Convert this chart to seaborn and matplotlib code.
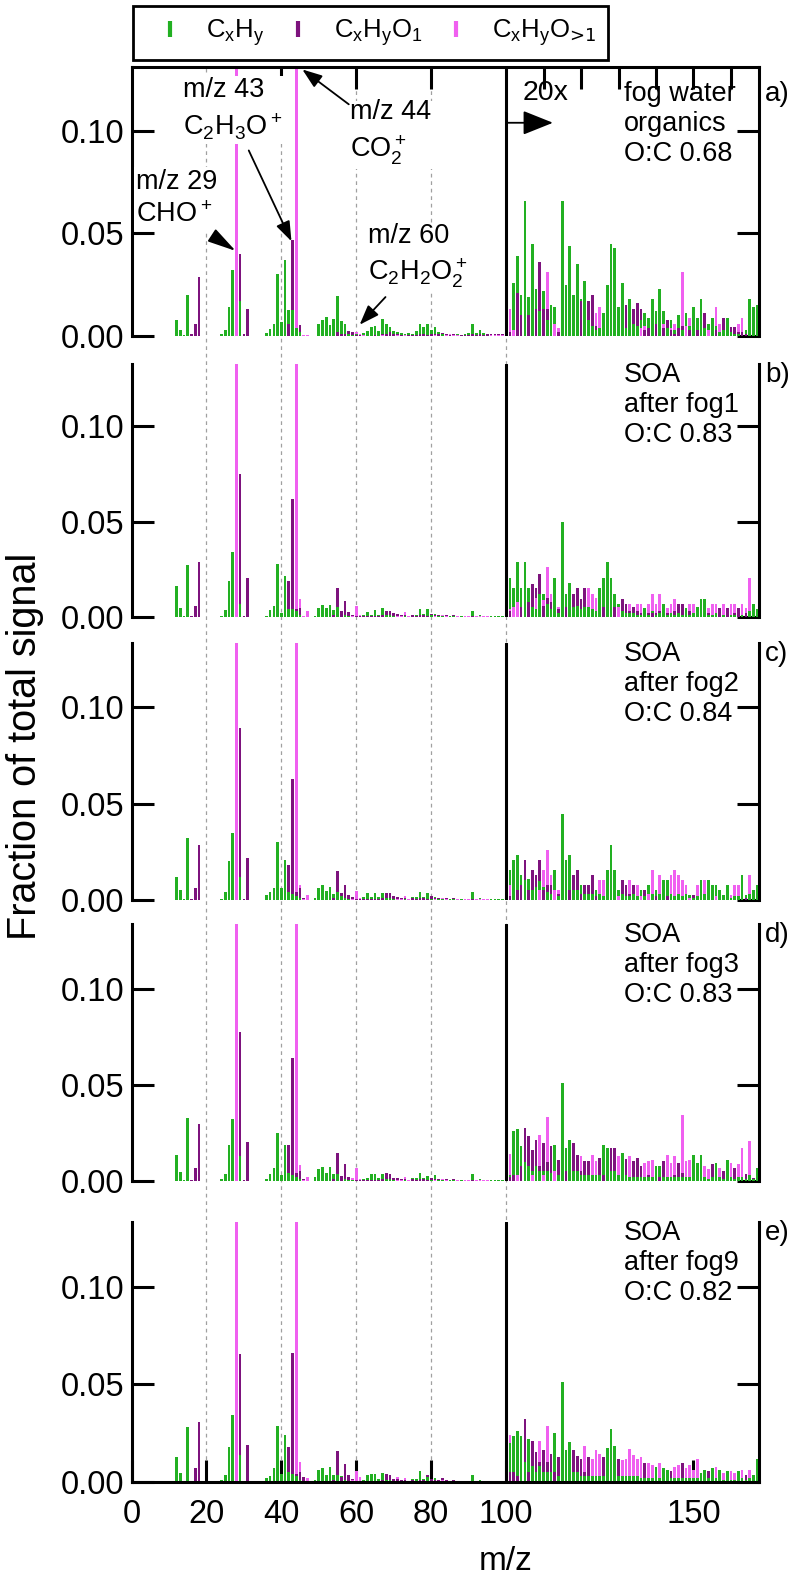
import numpy as np
import pandas as pd
import seaborn as sns
import matplotlib
matplotlib.use("Agg")
import matplotlib.pyplot as plt
from matplotlib.lines import Line2D
from matplotlib.ticker import FormatStrFormatter
from matplotlib.transforms import blended_transform_factory

# ---------------------------------------------------------------- data
# unit m/z bins; the section above m/z 100 is shown magnified 20x
mz_lo = np.arange(12, 101)
mz_hi = np.arange(101, 168)

families = ["CxHy", "CxHyO1", "CxHyO>1"]
family_labels = [r"C$_\mathregular{x}$H$_\mathregular{y}$",
                 r"C$_\mathregular{x}$H$_\mathregular{y}$O$_\mathregular{1}$",
                 r"C$_\mathregular{x}$H$_\mathregular{y}$O$_\text{>1}$"]
family_colors = {"CxHy": "#22b022", "CxHyO1": "#7d137d", "CxHyO>1": "#f060f0"}

panel_tags = ["a)", "b)", "c)", "d)", "e)"]
panel_notes = ["fog water\norganics\nO:C 0.68",
               "SOA\nafter fog1\nO:C 0.83",
               "SOA\nafter fog2\nO:C 0.84",
               "SOA\nafter fog3\nO:C 0.83",
               "SOA\nafter fog9\nO:C 0.82"]

# fraction of total signal x 1000; *_lo = m/z 12-100, *_hi = m/z 101-167 as drawn (20x)
# (m/z 28 and 44 run off the top of every panel)

# a) fog water organics
G_a_lo = [8, 3, 0.5, 20, 0, 0, 0, 0,
          0, 0, 0, 0, 1, 3, 14, 32, 0, 17,
          0, 0, 0, 0, 0, 0, 1.5, 3.5, 6, 30,
          7, 37, 12.5, 12.5, 4, 2, 0, 0, 0, 0,
          6, 8, 9.5, 5.5, 8.5, 19.5, 7.5, 6, 1, 0.5,
          1, 0.5, 1.5, 2.5, 4.5, 5, 2.5, 8.5, 6, 4.5,
          2.5, 2, 1.5, 1, 1.5, 1, 2.5, 6, 4.5, 6,
          3, 4.5, 2, 1, 1, 0.5, 0.5, 1, 0.5, 1,
          1.5, 6, 1.5, 3, 1.5, 1.2, 0.5, 0.5, 0.5, 0.5,
          0.3]
P_a_lo = [0, 0, 0, 0, 1, 6, 29, 0,
          0, 0, 0, 0, 0, 0, 0, 0, 0, 40,
          1, 13, 0, 0, 0, 0, 0, 0, 0, 0,
          0, 0, 6, 47, 0, 5.5, 0, 0, 0, 0,
          0, 0, 0, 0, 0, 2, 1, 1, 2.5, 2,
          0.5, 0.5, 0, 0, 0, 0.5, 0, 1, 1, 2,
          1, 1, 0.5, 0.5, 0.5, 0.5, 0.5, 1, 1, 0.5,
          1, 1, 1, 1.5, 1, 0.5, 0.8, 0.5, 0.5, 0.5,
          0.5, 1, 0.5, 1, 0.5, 0.8, 1, 1, 0.8, 0.8,
          0.5]
M_a_lo = [0, 0, 0, 0, 0, 0, 0, 0,
          0, 0, 0, 0, 0, 0, 0, 0, 140, 0,
          0, 0, 0, 0, 0, 0, 0, 0, 0, 0,
          0, 0, 0, 0, 140, 0, 0.7, 0.5, 0, 0,
          0, 0, 0, 0, 0, 0, 0, 0, 0, 0,
          2, 1, 0.5, 0, 0, 0, 0, 0.5, 0, 0,
          0, 0.5, 0, 0.5, 0, 0, 0, 0, 0, 0,
          0, 0.5, 0, 0, 0.5, 1, 0.5, 0.5, 0, 0,
          0, 0, 0, 0, 0, 0, 0.5, 0.5, 0.5, 0.5,
          0]
G_a_hi = [0, 26, 39, 20, 66, 19, 45, 23, 12, 22,
          8, 15, 14, 0, 66, 25, 44, 20, 35, 18,
          27, 8, 5, 3, 4, 11, 25, 45, 43, 14,
          26, 4, 18, 6, 5, 8, 11, 9, 18, 12,
          23, 12, 4, 8, 3, 10, 3, 11, 5, 14,
          9, 18, 4, 6, 9, 5, 2, 3, 9, 2,
          1, 1, 0, 3, 18, 14, 15]
P_a_hi = [2, 0, 21, 10, 0, 10, 0, 13, 36, 13,
          13, 0, 0, 2, 0, 0, 0, 0, 0, 17,
          0, 17, 20, 5, 0, 0, 0, 0, 0, 0,
          0, 15, 0, 13, 16, 13, 3, 4, 0, 6,
          0, 4, 8, 3, 1, 4, 5, 0, 3, 0,
          3, 0, 11, 0, 0, 3, 0, 9, 0, 4.5,
          4.5, 2, 2, 1, 0, 0, 0]
M_a_hi = [13, 3, 0, 0, 0, 0, 0, 0, 0, 0,
          31, 0, 6, 4, 0, 0, 0, 0, 0, 0,
          0, 0, 0, 11, 14, 0, 0, 0, 0, 0,
          0, 0, 0, 0, 0, 4, 5, 0, 0, 0,
          0, 6, 0, 4, 6, 0, 31, 5, 9, 0,
          0, 0, 0, 3, 0, 14, 6, 0, 0, 0,
          0, 6, 9, 0, 0, 0, 0]

# b) SOA after fog1
G_b_lo = [16, 4.5, 0.5, 27, 0, 0, 0, 0,
          0, 0, 0, 0, 0.3, 3.5, 19, 34, 0, 7,
          0, 0, 0, 0, 0, 0, 0.3, 3.5, 6, 28,
          2, 21.5, 4, 4, 3, 1, 0, 0, 0, 0.3,
          4.5, 6.5, 4.5, 6.5, 3.5, 5, 3, 1, 0.5, 0.5,
          0.5, 0.3, 1, 2.5, 1, 3.5, 1, 4.5, 1, 1,
          0.5, 0.5, 1, 0.5, 0.5, 1, 1, 4, 1.5, 4,
          1, 1.5, 0.5, 0.5, 0.5, 0.3, 0.3, 0.5, 0.3, 0.5,
          0.5, 3, 0.5, 1, 0.5, 0.5, 0.3, 0.3, 0.3, 0.3,
          0.3]
P_b_lo = [0, 0, 0, 0, 0.5, 6, 29, 0,
          0, 0, 0, 0, 0, 0, 0, 0, 0, 75,
          0.5, 20.5, 0, 0, 0, 0, 0, 0, 0, 0,
          0, 0, 19, 62, 4, 4.5, 0.5, 0, 0, 0,
          0, 0, 0, 0, 1, 15, 3, 8.5, 2.5, 1,
          0.5, 0.3, 0.3, 0.5, 0.3, 0.5, 0.3, 1, 3, 3,
          2, 1.5, 1, 1, 0.5, 1, 0.5, 1, 1, 0.5,
          1.5, 1, 1, 1, 1, 0.5, 1, 0.5, 0.5, 0.5,
          0.5, 0.5, 0.5, 0.5, 0.5, 0.5, 0.5, 0.5, 0.5, 0.5,
          0.5]
M_b_lo = [0, 0, 0, 0, 0, 0, 0, 0,
          0, 0, 0, 0, 0, 0, 0, 0, 140, 0,
          0, 0, 0, 0, 0, 0, 0, 0, 0, 0,
          0, 0, 0, 0, 140, 9.5, 0.5, 3, 0, 0,
          0, 0, 0, 0, 0, 0, 0, 0, 0, 0.5,
          5.5, 1, 0.5, 0, 0, 0, 0, 0, 0, 0,
          0, 0.5, 0.5, 2.5, 0.5, 0, 0, 0, 0, 0,
          0, 0.5, 0, 1, 0.5, 0.5, 0, 0.5, 0.5, 0.5,
          0.5, 0, 0.5, 0.5, 0.5, 0.5, 0.5, 0.5, 0.5, 0.5,
          0.5]
G_b_hi = [20.5, 15, 29, 15, 29, 15, 5, 4, 12, 12,
          7, 4, 20.5, 2, 50, 12, 18, 5, 6, 4,
          5, 5, 4, 3, 15, 20.5, 29, 20.5, 12, 7,
          3, 2, 2, 2, 1, 1, 4.5, 1, 3, 1,
          2, 7, 1, 2, 1, 2, 1, 4.5, 1, 2,
          5, 9.6, 9.6, 1, 1, 2, 0, 1, 0, 1,
          1, 0, 1, 0, 3, 7, 4]
P_b_hi = [3, 0, 0, 5, 0, 8, 17.5, 15, 22.7, 6,
          10, 8, 0, 4, 0, 5, 0, 12, 15, 9.6,
          15, 0, 0, 0, 0, 5, 0, 0, 5, 0,
          9.6, 7, 3, 5, 3, 2, 0, 2, 2, 2,
          3, 0, 2, 0, 3, 7, 7, 0, 3, 0,
          0, 0, 0, 2, 0, 0, 4.5, 0, 4.5, 0,
          2, 4.5, 0, 2, 0, 0, 0]
M_b_hi = [4, 5, 8, 0, 0, 0, 0, 10, 0, 9,
          26, 12, 0, 5, 0, 0, 0, 0, 0, 0,
          0, 15, 12, 10, 0, 0, 0, 0, 0, 5,
          0, 0, 7, 0, 7, 7, 0, 7, 12, 7,
          12, 0, 4.5, 7, 9.6, 0, 0, 0, 7, 7,
          0, 0, 0, 4.5, 7, 7, 0, 7, 0, 7,
          7, 0, 7, 4.5, 20.5, 0, 0]

# c) SOA after fog2
G_c_lo = [12, 5, 0.5, 32, 0, 0, 0, 0,
          0, 0, 0, 0, 0.5, 4.3, 20, 35, 0, 12,
          0, 0, 0, 0, 0, 0, 2.6, 4, 6.4, 30,
          6, 20.7, 4, 3, 2, 1, 0, 0, 0, 0.8,
          6, 7.8, 4.8, 6.9, 3.1, 4.3, 2, 1, 0.5, 0.5,
          0.5, 0.5, 1.3, 3.5, 1.3, 3.5, 1.3, 3.5, 1, 1,
          0.5, 0.5, 0.7, 0.5, 0.7, 1.7, 1.3, 4.3, 1.7, 3.5,
          0.5, 1.5, 0.5, 0.5, 0.5, 0.3, 0.3, 0.5, 0.3, 0.5,
          0.5, 4, 0.5, 1, 0.5, 0.5, 0.3, 0.3, 0.3, 0.3,
          0.3]
P_c_lo = [0, 0, 0, 0, 0.3, 6.4, 28.5, 0,
          0, 0, 0, 0, 0, 0, 0, 0, 0, 89,
          0.3, 22, 0, 0, 0, 0, 0, 0, 0, 0,
          0, 0, 18, 63, 4, 6, 0.8, 0, 0, 0,
          0, 0, 0, 0, 1, 15.2, 3.5, 7.8, 2.6, 1.5,
          0.5, 0.5, 0.3, 0.5, 0.3, 0.5, 0.3, 1, 3.8, 3.5,
          2, 1.5, 1, 1, 0.5, 1, 0.5, 1, 1, 0.5,
          2, 1, 1, 1, 1, 0.5, 1, 0.5, 0.5, 0.5,
          0.5, 0.5, 0.5, 0.5, 0.5, 0.5, 0.5, 0.5, 0.5, 0.5,
          0.5]
M_c_lo = [0, 0, 0, 0, 0, 0, 0, 0,
          0, 0, 0, 0, 0, 0, 0, 0, 140, 0,
          0, 0, 0, 0, 0, 0, 0, 0, 0, 0,
          0, 0, 0, 0, 140, 7.8, 0.5, 2.6, 0, 0,
          0, 0, 0, 0, 0, 0, 0, 0, 0, 0.5,
          4.8, 1, 0.5, 0, 0, 0, 0, 0, 0, 0,
          0, 0.5, 0.5, 2, 0.5, 0, 0, 0, 0, 0,
          0, 0.5, 0, 1, 0.5, 0.5, 0, 0.5, 0.5, 0.5,
          0.5, 0, 0.5, 0.5, 0.5, 0.5, 0.5, 0.5, 0.5, 0.5,
          0.5]
G_c_hi = [15.6, 20.7, 23.3, 13, 10.4, 10.7, 5, 7, 10, 7,
          4, 3, 15.6, 2, 44.6, 20.7, 23.3, 5, 5, 7.8,
          3, 3, 3, 5.2, 3, 2, 15.6, 28.5, 15.6, 5.2,
          3, 2, 2, 3, 2, 5.2, 2, 7.8, 3, 5.2,
          3, 10.4, 10.4, 3, 2, 3, 2, 3, 2.6, 1,
          2, 10.4, 3, 10.4, 7.8, 7.8, 5.2, 2.6, 7.8, 1,
          2, 2, 13, 2.6, 3, 5.2, 7.8]
P_c_hi = [2, 0, 5, 8, 20.7, 5, 15.6, 13, 20.7, 5,
          8, 7.8, 0, 3, 0, 0, 5, 13, 15.6, 3,
          7.8, 7.8, 13, 2, 0, 0, 0, 0, 0, 0,
          10.4, 7.8, 3, 7.8, 0, 0, 5.2, 0, 0, 2,
          0, 0, 2, 0, 0, 0, 0, 0, 0, 2.6,
          0, 0, 0, 0, 0, 0, 0, 0, 0, 0,
          0, 0, 0, 1, 0, 0, 0]
M_c_hi = [7.8, 0, 0, 0, 0, 0, 0, 0, 5, 15.6,
          26, 13, 5, 5.2, 0, 0, 0, 0, 0, 0,
          0, 0, 0, 0, 10.4, 10.4, 0, 0, 0, 2,
          0, 0, 10.4, 0, 7.8, 2, 0, 3, 15.6, 0,
          13, 0, 0, 13, 15.6, 13, 10.4, 7.8, 1, 0,
          7.8, 0, 10.4, 0, 0, 2, 0, 0, 0, 2.6,
          7.8, 7.8, 0, 0, 13, 0, 0]

# d) SOA after fog3
G_d_lo = [13.4, 4.8, 0.5, 32.8, 0, 0, 0, 0,
          0, 0, 0, 0, 1, 3.4, 19, 32.4, 0, 13,
          0, 0, 0, 0, 0, 0, 1, 3.4, 6.9, 25,
          3, 19, 4, 3, 2, 1, 0, 0, 0, 2,
          6, 7.2, 4.1, 7.4, 3.8, 3.8, 2.6, 1, 0.5, 0.5,
          0.5, 0.5, 1, 1.7, 3.4, 3.8, 1.4, 3.4, 1, 1,
          0.5, 0.5, 0.7, 0.5, 0.7, 1.7, 1.4, 4.3, 1.7, 2.6,
          0.5, 2.9, 0.5, 0.5, 0.5, 0.3, 0.3, 0.5, 0.3, 0.5,
          0.5, 3.4, 0.5, 1, 0.5, 0.5, 0.3, 0.3, 0.3, 0.3,
          0.3]
P_d_lo = [0, 0, 0, 0, 0.7, 6.9, 29.7, 0,
          0, 0, 0, 0, 0, 0, 0, 0, 0, 77.6,
          0.3, 20.3, 0, 0, 0, 0, 0, 0, 0, 0,
          0, 0, 19, 64, 4, 5, 0.8, 0, 0, 0,
          0, 0, 0, 0, 1, 14.7, 2.6, 8.6, 2, 1.5,
          0.5, 0.5, 0.3, 0.5, 0.3, 0.5, 0.3, 1, 4.3, 3.4,
          1.7, 1.5, 1, 1, 0.5, 1, 0.5, 1, 1, 0.5,
          1.5, 1, 1, 1, 1, 0.5, 1, 0.5, 0.5, 0.5,
          0.5, 0.5, 0.5, 0.5, 0.5, 0.5, 0.5, 0.5, 0.5, 0.5,
          0.5]
M_d_lo = [0, 0, 0, 0, 0, 0, 0, 0,
          0, 0, 0, 0, 0, 0, 0, 0, 140, 0,
          0, 0, 0, 0, 0, 0, 0, 0, 0, 0,
          0, 0, 0, 0, 140, 8.3, 0.5, 2, 0, 0,
          0, 0, 0, 0, 0, 0, 0, 0, 0, 1.4,
          6.9, 0.9, 0.5, 0, 0, 0, 0, 0, 0, 0,
          0, 0.5, 0.5, 2.1, 0.5, 0, 0, 0, 0, 0,
          0, 0.5, 0, 1, 0.5, 0.5, 0, 0.5, 0.5, 0.5,
          0.5, 0, 0.5, 0.5, 0.5, 0.5, 0.5, 0.5, 0.5, 0.5,
          0.5]
G_d_hi = [3, 26.2, 27.2, 18, 10, 8, 5, 8, 5, 5,
          5, 4, 19, 3, 50.9, 17.2, 21.6, 5, 5, 3,
          3, 3, 3, 3, 3, 19, 17.2, 5, 5, 3,
          14.7, 3, 2, 2, 2, 2, 2, 2, 2, 7.8,
          7.8, 2, 2, 2, 2, 2, 2, 2, 2, 13.8,
          9.5, 13.8, 2, 1, 2, 9.5, 2, 1, 11.2, 2,
          1, 2, 2, 1, 3, 1, 6.9]
P_d_hi = [2, 3, 0, 8, 27.6, 23.3, 16.4, 21.6, 8, 19.8,
          10, 18.1, 0, 11.2, 0, 5, 0, 19.8, 13.8, 5,
          10.3, 10.3, 0, 0, 12.1, 3, 0, 17.2, 17.2, 0,
          0, 11.7, 0, 10.3, 12.1, 7.8, 0, 3, 0, 0,
          2, 10.3, 0, 0, 3, 9.5, 4, 0, 0, 0,
          0, 0, 0, 0, 8.6, 0, 0, 5.2, 0, 0,
          6.9, 0, 0, 3.4, 0, 1.7, 0]
M_d_hi = [14.1, 0, 3, 0, 0, 0, 3, 0, 23.8, 3,
          33.6, 0, 5, 0, 0, 0, 0, 0, 0, 12.9,
          0, 0, 13.8, 10.3, 0, 0, 0, 0, 0, 12.9,
          0, 0, 12.9, 0, 0, 0, 9.5, 10.3, 11.2, 0,
          0, 0, 13.8, 9.5, 12.9, 0, 34.5, 10.3, 11.2, 0,
          0, 0, 7.8, 6, 0, 0, 6.9, 0, 0, 9.5,
          0, 8.6, 17.2, 0, 20.7, 0, 0]

# e) SOA after fog9
G_e_lo = [12.9, 4.6, 0.5, 28, 0, 0, 0, 0,
          0, 0, 0, 0, 1, 3.8, 17.8, 34.3, 0, 13.7,
          0, 0, 0, 0, 0, 0, 2, 3, 7.1, 28.5,
          4, 24, 5, 4, 3, 1, 0, 0, 0, 1,
          6.3, 7.4, 3.6, 7.9, 3.8, 3.8, 3.3, 1, 0.5, 0.5,
          0.5, 0.5, 1, 3.8, 4.3, 4.3, 1.3, 4.6, 1, 1,
          0.5, 0.5, 0.7, 0.5, 0.7, 1.7, 1.4, 5.4, 1.7, 2.6,
          0.5, 2, 0.5, 0.5, 0.5, 0.3, 0.3, 0.5, 0.3, 0.5,
          0.5, 3.8, 0.5, 1, 0.5, 0.5, 0.3, 0.3, 0.3, 0.3,
          0.3]
P_e_lo = [0, 0, 0, 0, 0.5, 7.1, 31, 0,
          0, 0, 0, 0, 0, 0, 0, 0, 0, 65.7,
          0.3, 19, 0, 0, 0, 0, 0, 0, 0, 0,
          0, 0, 17.8, 66, 4, 5, 2.8, 0, 0, 0,
          0, 0, 0, 0, 1, 15.8, 2.6, 9.1, 3.8, 1.5,
          0.5, 0.5, 0.3, 0.5, 0.3, 0.5, 0.3, 1, 4.3, 3.8,
          1.7, 1.5, 1, 1, 0.5, 1, 0.5, 1, 1, 3.8,
          1.5, 1, 1, 2, 1, 0.5, 1, 0.5, 0.5, 0.5,
          0.5, 0.5, 0.5, 0.5, 0.5, 0.5, 0.5, 0.5, 0.5, 0.5,
          0.5]
M_e_lo = [0, 0, 0, 0, 0, 0, 0, 0,
          0, 0, 0, 0, 0, 0, 0, 0, 140, 0,
          0, 0, 0, 0, 0, 0, 0, 0, 0, 0,
          0, 0, 0, 0, 140, 10.4, 0.5, 2, 0, 0,
          0, 0, 0, 0, 0, 0, 0, 0, 0, 1,
          5.4, 2.6, 0.5, 0, 0, 0, 0, 0, 0, 0,
          0, 2.6, 0.5, 2.1, 0.5, 0, 0, 0, 0, 0,
          0, 0.5, 0, 1, 0.5, 0.5, 0, 0.5, 0.5, 0.5,
          0.5, 0, 0.5, 0.5, 0.5, 0.5, 0.5, 0.5, 0.5, 0.5,
          0.5]
G_e_hi = [20, 23.6, 26.1, 23.6, 10, 21.9, 8, 5, 8, 5,
          5, 5, 25.2, 3, 51.5, 16.2, 20.3, 5, 5, 3,
          3, 3, 3, 3, 3, 3, 17.3, 27.4, 18.3, 3,
          3, 3, 3, 3, 3, 2, 2, 2, 2, 7.9,
          2, 7.1, 6.3, 2, 2, 2, 2, 2, 2, 2,
          2, 4.6, 6.3, 2, 7.1, 2, 6.3, 1, 5.4, 1,
          1, 5.4, 2, 1, 2, 3.8, 12]
P_e_hi = [5, 5, 3, 0, 32.3, 5, 21.1, 15.3, 10, 16.2,
          10, 14.5, 5, 12.9, 0, 0, 0, 16.2, 13.2, 12,
          5, 12.9, 0, 0, 0, 12.9, 0, 0, 0, 12,
          0, 0, 0, 0, 0, 0, 9.6, 0, 0, 0,
          0, 0, 0, 5.4, 0, 0, 9.6, 0, 0, 0,
          0, 0, 0, 5.4, 0, 0, 0, 0, 0, 0,
          0, 0, 0, 3.8, 0, 0, 0]
M_e_hi = [24.1, 0, 0, 0, 0, 0, 0, 0, 21.1, 0,
          28.5, 0, 0, 0, 0, 0, 0, 0, 0, 0,
          18.6, 0, 12, 16.2, 14.5, 0, 0, 0, 0, 0,
          11.2, 12, 16.7, 13.7, 12, 12.9, 0, 9.6, 8.7, 0,
          9.6, 0, 0, 0, 7.9, 8.7, 0, 7.1, 8.7, 6.3,
          12, 0, 0, 0, 0, 7.9, 0, 4.6, 0, 5.4,
          4.6, 0, 6.3, 0, 6.3, 0, 0]

panels = [
    ([G_a_lo, P_a_lo, M_a_lo], [G_a_hi, P_a_hi, M_a_hi]),
    ([G_b_lo, P_b_lo, M_b_lo], [G_b_hi, P_b_hi, M_b_hi]),
    ([G_c_lo, P_c_lo, M_c_lo], [G_c_hi, P_c_hi, M_c_hi]),
    ([G_d_lo, P_d_lo, M_d_lo], [G_d_hi, P_d_hi, M_d_hi]),
    ([G_e_lo, P_e_lo, M_e_lo], [G_e_hi, P_e_hi, M_e_hi]),
]


def panel_frame(lo, hi):
    mz = np.concatenate([mz_lo, mz_hi])
    parts = []
    for fam, a, b in zip(families, lo, hi):
        assert len(a) == len(mz_lo) and len(b) == len(mz_hi), fam
        parts.append(pd.DataFrame({"mz": mz, "family": fam,
                                   "value": np.concatenate([a, b]) / 1000.0}))
    df = pd.concat(parts, ignore_index=True)
    # bars of one m/z overlap from zero: tallest drawn first, shorter ones in front
    df["rank"] = df.groupby("mz")["value"].rank(method="first", ascending=False).astype(int) - 1
    return df


# ---------------------------------------------------------------- style
sns.set_style("ticks")
plt.rcParams["font.family"] = ["Liberation Sans", "DejaVu Sans"]
plt.rcParams["mathtext.default"] = "regular"
for k in ["axes.edgecolor", "text.color", "xtick.color", "ytick.color", "axes.labelcolor"]:
    plt.rcParams[k] = "black"

W, H = 796, 1582
fig = plt.figure(figsize=(W / 100, H / 100), dpi=100)

x_left, x_right = 131.5, 759.0
x_max = 167.5
# (zero row, top row) in pixels, and the upper y limit of each panel
panel_rows = [(336, 67), (617, 364), (900, 643), (1181, 924), (1482, 1222)]
y_tops = [0.1312, 0.1325, 0.1333, 0.1339, 0.1333]

LW = 2.2
TICK_LEN = 15.5
FS_TICK = 23.5
FS_NOTE = 19.5

axes = []
for i, ((lo, hi), (r0, r1), ytop) in enumerate(zip(panels, panel_rows, y_tops)):
    ax = fig.add_axes([x_left / W, 1 - r0 / H, (x_right - x_left) / W, (r0 - r1) / H])
    ax.set_facecolor("none")
    df = panel_frame(lo, hi)
    for r in range(3):
        sns.barplot(data=df[df["rank"] == r], x="mz", y="value", hue="family",
                    hue_order=families, palette=family_colors, native_scale=True,
                    dodge=False, width=0.72, errorbar=None, saturation=1,
                    linewidth=0, legend=False, ax=ax)
    ax.set_xlim(0, x_max)
    ax.set_ylim(0, ytop)
    ax.set_xlabel("")
    ax.set_ylabel("")

    for s in ["left", "right", "top", "bottom"]:
        ax.spines[s].set_linewidth(LW)
        ax.spines[s].set_color("black")
    ax.spines["top"].set_visible(i == 0)
    ax.spines["bottom"].set_visible(i == 4)
    ax.axvline(100, color="black", lw=LW, zorder=5)

    ax.set_yticks([0, 0.05, 0.10])
    ax.yaxis.set_major_formatter(FormatStrFormatter("%.2f"))
    ax.tick_params(axis="y", direction="in", length=TICK_LEN, width=LW,
                   labelsize=FS_TICK, pad=5, left=True, right=True)
    if i == 0:
        ax.set_xticks([40, 60, 80, 110, 120, 130, 140, 150, 160])
        ax.tick_params(axis="x", direction="in", length=TICK_LEN, width=LW,
                       bottom=False, top=True, labelbottom=False)
    elif i == 4:
        ax.set_xticks([0, 20, 40, 60, 80, 100, 150])
        ax.set_xticklabels(["0", "20", "40", "60", "80", "100", "150"])
        ax.tick_params(axis="x", direction="in", length=TICK_LEN, width=LW,
                       labelsize=FS_TICK, pad=12, bottom=True, top=False)
    else:
        ax.set_xticks([])

    # first text line: baseline this far (pt) below the panel top
    first_base = 24.5 if i == 0 else 13
    ax.annotate(panel_notes[i], xy=(0.785, 1), xycoords="axes fraction",
                xytext=(0, -first_base + 14.2), textcoords="offset points",
                ha="left", va="top", fontsize=FS_NOTE, linespacing=1.2)
    ax.annotate(panel_tags[i], xy=(1, 1), xycoords="axes fraction",
                xytext=(4.5, -first_base), textcoords="offset points",
                ha="left", va="baseline", fontsize=FS_NOTE + 0.5)
    axes.append(ax)

# dashed guides through all panels
guide = blended_transform_factory(axes[-1].transData, fig.transFigure)
for xg in [20, 40, 60, 80, 100]:
    fig.add_artist(Line2D([xg, xg], [1 - panel_rows[-1][0] / H, 1 - panel_rows[0][1] / H],
                          transform=guide, color="#a0a0a0", lw=0.9,
                          ls=(0, (3, 3)), zorder=-1))

# ---------------------------------------------------------------- annotations (panel a)
ax = axes[0]
box = dict(facecolor="white", edgecolor="none", pad=1.5)
labels_a = [
    ("m/z 43\n" + r"C$_2$H$_3$O$^+$", 13.7, 0.1105),
    ("m/z 29\n" + r"CHO$^+$", 1.2, 0.0672),
    ("m/z 44\n" + r"CO$_2^+$", 58.2, 0.0990),
    ("m/z 60\n" + r"C$_2$H$_2$O$_2^+$", 63.0, 0.0388),
]
for txt, xt, yt in labels_a:
    ax.text(xt, yt, txt, ha="left", va="center", fontsize=FS_NOTE, bbox=box,
            linespacing=1.35, zorder=6)

arrow_thin = dict(arrowstyle="-|>,head_length=0.55,head_width=0.2", color="black",
                  lw=1.3, mutation_scale=22, shrinkA=0, shrinkB=0)
ax.annotate("", xy=(27.8, 0.0415), xytext=(22.2, 0.0482),
            arrowprops=dict(arrowstyle="-|>,head_length=0.7,head_width=0.18", color="black",
                            lw=1.3, mutation_scale=25, shrinkA=0, shrinkB=0), zorder=7)
ax.annotate("", xy=(42.7, 0.0462), xytext=(31.3, 0.0905), arrowprops=arrow_thin, zorder=7)
ax.annotate("", xy=(45.6, 0.1300), xytext=(58.0, 0.1130), arrowprops=arrow_thin, zorder=7)
ax.annotate("", xy=(60.9, 0.0055), xytext=(67.8, 0.0190), arrowprops=arrow_thin, zorder=7)

# 20x magnification marker
ax.text(104.3, 0.1185, "20x", ha="left", va="center", fontsize=FS_NOTE + 1, zorder=6)
ax.annotate("", xy=(112.5, 0.1040), xytext=(100, 0.1040),
            arrowprops=dict(arrowstyle="-|>,head_length=0.75,head_width=0.3", color="black",
                            lw=1.3, mutation_scale=25, shrinkA=0, shrinkB=0), zorder=7)

# ---------------------------------------------------------------- legend, axis labels
handles = [Line2D([0], [0], color=family_colors[f], marker="|", ls="none",
                  markersize=12, markeredgewidth=3) for f in families]
leg = fig.legend(handles, family_labels, loc="upper left", ncol=3,
                 bbox_to_anchor=(133 / W, 1 - 6 / H), borderaxespad=0,
                 frameon=True, fancybox=False, edgecolor="black", framealpha=1,
                 fontsize=18.5, handlelength=2.0, handletextpad=0.4,
                 columnspacing=0.3, borderpad=0.45)
leg.get_frame().set_linewidth(2)

fig.text(25 / W, 1 - 746 / H, "Fraction of total signal", rotation=90,
         ha="center", va="center", fontsize=28.5)
fig.text(506 / W, 1 - 1562 / H, "m/z", ha="center", va="center", fontsize=24)

fig.savefig("out.png", dpi=100)
